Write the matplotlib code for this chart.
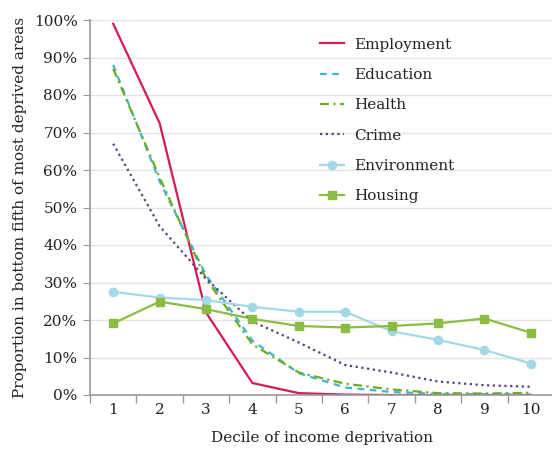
import matplotlib
matplotlib.use("Agg")
import matplotlib.pyplot as plt
from matplotlib.ticker import FixedLocator, PercentFormatter

deciles = [1, 2, 3, 4, 5, 6, 7, 8, 9, 10]
employment = [99, 72.5, 22, 3.2, 0.5, 0.1, 0, 0, 0, 0]
education = [88, 57, 32, 14.5, 5.8, 2.0, 0.8, 0.3, 0.2, 0.2]
health = [87, 58, 31, 13.5, 6.0, 3.0, 1.5, 0.5, 0.4, 0.6]
crime = [67, 45, 31, 19.6, 14, 8, 6, 3.6, 2.6, 2.2]
environment = [27.5, 26, 25.3, 23.5, 22.2, 22.2, 17, 14.7, 12, 8.4]
housing = [19.1, 24.9, 22.9, 20.3, 18.4, 18, 18.4, 19.1, 20.4, 16.6]

plt.rcParams['font.family'] = ['DejaVu Serif']
fig = plt.figure(figsize=(5.52, 4.51), dpi=100)
ax = fig.add_axes([90/552, 56/451, 464/552, 375/451])

ax.plot(deciles, employment, color='#d6185c', lw=1.6, label='Employment')
ax.plot(deciles, education, color='#3db5d3', lw=1.6, ls=(0, (3, 2.5)), label='Education')
ax.plot(deciles, health, color='#6aae1f', lw=1.6, ls=(0, (4, 2, 1, 2)), label='Health')
ax.plot(deciles, crime, color='#5a3e7c', lw=1.6, ls=(0, (1, 1.6)), label='Crime')
ax.plot(deciles, environment, color='#a3d9e6', lw=1.6, marker='o', ms=6, label='Environment')
ax.plot(deciles, housing, color='#8abb43', lw=1.6, marker='s', ms=6, label='Housing')

ax.set_xlim(0.5, 10.5)
ax.set_ylim(0, 100)
ax.yaxis.set_major_locator(FixedLocator(range(0, 101, 10)))
ax.yaxis.set_major_formatter(PercentFormatter(decimals=0))
ax.set_xticks(deciles)
ax.xaxis.set_minor_locator(FixedLocator([d + 0.5 for d in range(0, 11)]))
ax.tick_params(axis='x', which='major', length=0, pad=6, labelsize=11)
ax.tick_params(axis='x', which='minor', length=6, color='#999999', width=1)
ax.tick_params(axis='y', which='major', length=5, color='#999999', labelsize=11, pad=4)
for lbl in ax.get_yticklabels() + ax.get_xticklabels():
    lbl.set_color('#222222')
ax.grid(axis='y', color='#e3e3e3', lw=1)
ax.set_axisbelow(True)
for s in ['top', 'right']:
    ax.spines[s].set_visible(False)
ax.spines['left'].set_color('#999999')
ax.spines['bottom'].set_color('#999999')
ax.spines['left'].set_linewidth(1.2)
ax.spines['bottom'].set_linewidth(1.2)

ax.set_ylabel('Proportion in bottom fifth of most deprived areas', fontsize=11, color='#222222', labelpad=5)
ax.set_xlabel('Decile of income deprivation', fontsize=11, color='#222222', labelpad=10)

leg = ax.legend(loc='upper left', bbox_to_anchor=(0.465, 0.99), frameon=False, fontsize=11,
                handlelength=1.6, labelspacing=1.07, handletextpad=0.65)
for t in leg.get_texts():
    t.set_color('#222222')

fig.savefig('out.png', dpi=100)
